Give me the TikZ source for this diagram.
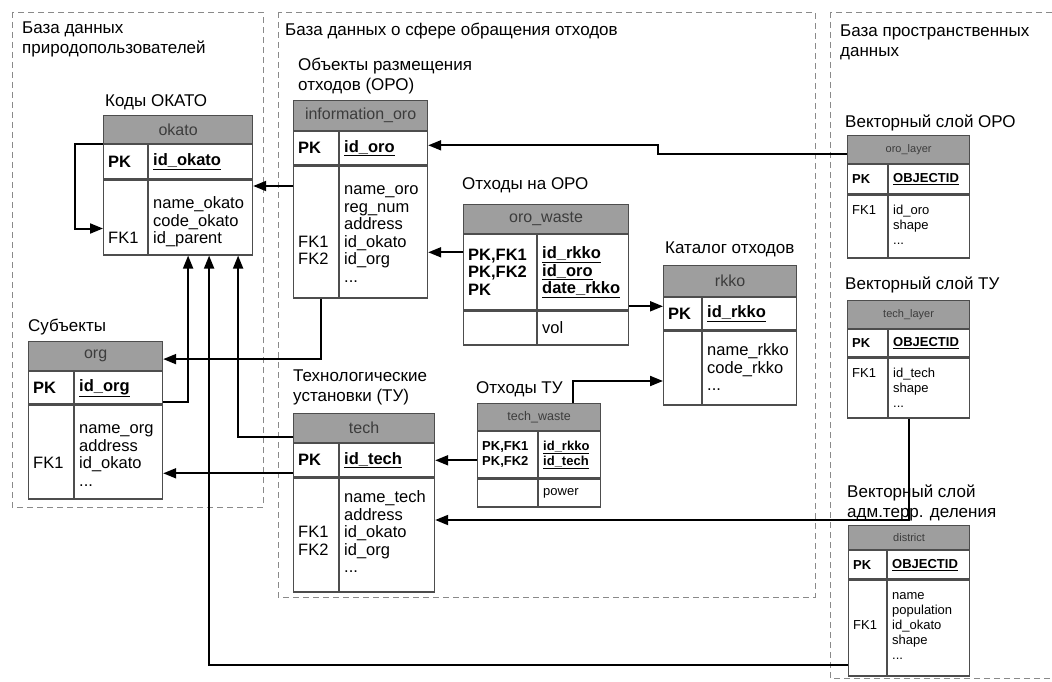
\documentclass[tikz,border=0pt]{standalone}
\usepackage{fontspec}
\setmainfont{Liberation Sans}
\usetikzlibrary{arrows.meta,positioning,calc}
\definecolor{hdrgray}{HTML}{9E9E9E}
\definecolor{tabline}{HTML}{4D4D4D}
\definecolor{hdrtext}{HTML}{3C3C3C}
\definecolor{regline}{HTML}{8A8A8A}
\newcommand\fbig{\fontsize{16.5}{17.5}\selectfont}
\newcommand\fsml{\fontsize{13}{15}\selectfont}
\newcommand\ftitle{\fontsize{17}{20}\selectfont}

% table frame: name, x, y, width, divider, header h, key h, body h, header text
\newcommand\ertable[9]{%
  \node[tabhead, minimum width=#4pt, minimum height=#6pt, anchor=north west] (#1) at (#2,#3) {#9};
  \node[tabrow, minimum width=#4pt, minimum height=#7pt, anchor=north] (#1-key) at (#1.south) {};
  \node[tabrow, minimum width=#4pt, minimum height=#8pt, anchor=north] (#1-body) at (#1-key.south) {};
  \draw[tabrule] ([xshift=#5pt]#1-key.north west) -- ([xshift=#5pt]#1-body.south west);
  \coordinate (#1-k) at ([xshift=5pt]#1-key.west);
  \coordinate (#1-f) at ([xshift=#5pt+5pt]#1-key.west);
  \coordinate (#1-kb) at ([xshift=5pt]#1-body.north west);
  \coordinate (#1-fb) at ([xshift=#5pt+5pt]#1-body.north west);
  \coordinate (#1-fm) at ([xshift=#5pt+5pt]#1-body.west);
}

\begin{document}
\begin{tikzpicture}[x=1pt, y=-1pt,
  tabhead/.style={draw=tabline, fill=hdrgray, line width=1.2pt, inner sep=0pt,
    font=\fontsize{16}{18}\selectfont, text=hdrtext},
  tabrow/.style={draw=tabline, fill=white, line width=1.2pt, inner sep=0pt},
  tabrule/.style={draw=tabline, line width=1.2pt},
  keytxt/.style={anchor=west, inner sep=0pt, align=left, font=\fbig\bfseries},
  bodytxt/.style={anchor=north west, inner sep=0pt, align=left, font=\fbig, yshift=-17pt},
  keysml/.style={keytxt, font=\fsml\bfseries},
  bodysml/.style={anchor=north west, inner sep=0pt, align=left, font=\fsml, yshift=-9pt},
  tabtitle/.style={inner sep=0pt, align=left, font=\ftitle},
  dbregion/.style={draw=regline, line width=0.8pt, dash pattern=on 6pt off 4pt},
  fk/.style={-{Triangle[length=13pt,width=10pt]}, line width=2pt},
]
\path[fill=white, use as bounding box] (0,0) rectangle (1052,682);

% databases
\draw[dbregion] (12,12) rectangle (263,507);
\draw[dbregion] (278,12) rectangle (815,597);
\draw[dbregion] (830,12) rectangle (1060,678);
\node[tabtitle, anchor=north west] (db-users) at (22,22) {База данных\\природопользователей};
\node[tabtitle, anchor=base west] (db-waste) at (285,36) {База данных о сфере обращения отходов};
\node[tabtitle, anchor=north west] (db-gis) at (840,25) {База пространственных\\данных};

% okato
\ertable{okato}{103}{115}{149}{45}{28}{34}{75}{okato}
\node[tabtitle, anchor=base west] (okato-title) at (105,107) {Коды ОКАТО};
\node[keytxt] (okato-pk) at (okato-k) {PK};
\node[keytxt] (okato-id) at (okato-f) {\underline{id\_okato}};
\node[bodytxt] (okato-fk) at (okato-kb) {\strut\\\strut\\FK1};
\node[bodytxt] (okato-cols) at (okato-fb) {\strut name\_okato\\code\_okato\\id\_parent};

% org
\ertable{org}{28}{341}{134}{46}{29}{32}{94}{org}
\node[tabtitle, anchor=base west] (org-title) at (28,331) {Субъекты};
\node[keytxt] (org-pk) at (org-k) {PK};
\node[keytxt] (org-id) at (org-f) {\underline{id\_org}};
\node[bodytxt] (org-fk) at (org-kb) {\strut\\\strut\\FK1};
\node[bodytxt] (org-cols) at (org-fb) {\strut name\_org\\address\\id\_okato\\...};

% information_oro
\ertable{infooro}{293}{100}{134}{46}{30}{33}{132}{information\_oro}
\node[tabtitle, anchor=north west] (infooro-title) at (298,58) {Объекты размещения\\отходов (ОРО)};
\node[keytxt] (infooro-pk) at (infooro-k) {PK};
\node[keytxt] (infooro-id) at (infooro-f) {\underline{id\_oro}};
\node[bodytxt] (infooro-fk) at (infooro-kb) {\strut\\\strut\\\strut\\FK1\\FK2};
\node[bodytxt] (infooro-cols) at (infooro-fb) {\strut name\_oro\\reg\_num\\address\\id\_okato\\id\_org\\...};

% oro_waste
\ertable{orowaste}{463}{204}{165}{74}{29}{75}{34}{oro\_waste}
\node[tabtitle, anchor=base west] (orowaste-title) at (462,189) {Отходы на ОРО};
\node[keytxt] (orowaste-pk) at (orowaste-k) {PK,FK1\\PK,FK2\\PK};
\node[keytxt] (orowaste-id) at (orowaste-f) {\underline{id\_rkko}\\\underline{id\_oro}\\\underline{date\_rkko}};
\node[keytxt, font=\fbig] (orowaste-cols) at (orowaste-fm) {vol};

% rkko
\ertable{rkko}{663}{265}{133}{39}{31}{32}{74}{rkko}
\node[tabtitle, anchor=base west] (rkko-title) at (665,253) {Каталог отходов};
\node[keytxt] (rkko-pk) at (rkko-k) {PK};
\node[keytxt] (rkko-id) at (rkko-f) {\underline{id\_rkko}};
\node[bodytxt, yshift=4pt] (rkko-cols) at (rkko-fb) {\strut name\_rkko\\code\_rkko\\...};

% tech
\ertable{tech}{293}{413}{141}{46}{29}{33}{114}{tech}
\node[tabtitle, anchor=north west] (tech-title) at (293,370) {Технологические\\установки (ТУ)};
\node[keytxt] (tech-pk) at (tech-k) {PK};
\node[keytxt] (tech-id) at (tech-f) {\underline{id\_tech}};
\node[bodytxt, yshift=4pt] (tech-fk) at (tech-kb) {\strut\\\strut\\FK1\\FK2};
\node[bodytxt, yshift=4pt] (tech-cols) at (tech-fb) {\strut name\_tech\\address\\id\_okato\\id\_org\\...};

% tech_waste
\ertable{techwaste}{477}{403}{123}{61}{27}{46}{28}{\fontsize{12.5}{14}\selectfont tech\_waste}
\node[tabtitle, anchor=base west] (techwaste-title) at (476,393) {Отходы ТУ};
\node[keysml] (techwaste-pk) at (techwaste-k) {PK,FK1\\PK,FK2};
\node[keysml] (techwaste-id) at (techwaste-f) {\underline{id\_rkko}\\\underline{id\_tech}};
\node[keysml, font=\fsml] (techwaste-cols) at (techwaste-fm) {power};

% oro_layer
\ertable{orolayer}{847}{135}{122}{41}{28}{29}{63}{\fontsize{11}{13}\selectfont oro\_layer}
\node[tabtitle, anchor=base west] (orolayer-title) at (845,128) {Векторный слой ОРО};
\node[keysml] (orolayer-pk) at (orolayer-k) {PK};
\node[keysml] (orolayer-id) at (orolayer-f) {\underline{OBJECTID}};
\node[bodysml] (orolayer-fk) at (orolayer-kb) {\strut FK1};
\node[bodysml] (orolayer-cols) at (orolayer-fb) {\strut id\_oro\\shape\\...};

% tech_layer
\ertable{techlayer}{847}{300}{122}{41}{28}{27}{60}{\fontsize{11}{13}\selectfont tech\_layer}
\node[tabtitle, anchor=base west] (techlayer-title) at (845,289) {Векторный слой ТУ};
\node[keysml] (techlayer-pk) at (techlayer-k) {PK};
\node[keysml] (techlayer-id) at (techlayer-f) {\underline{OBJECTID}};
\node[bodysml] (techlayer-fk) at (techlayer-kb) {\strut FK1};
\node[bodysml] (techlayer-cols) at (techlayer-fb) {\strut id\_tech\\shape\\...};

% district
\ertable{district}{848}{525}{121}{39}{24}{28}{96}{\fontsize{11}{13}\selectfont district}
\node[tabtitle, anchor=north west] (district-title) at (847,485) {Векторный слой\\адм.терр. деления};
\node[keysml] (district-pk) at (district-k) {PK};
\node[keysml] (district-id) at (district-f) {\underline{OBJECTID}};
\node[bodysml] (district-fk) at (district-kb) {\strut\\\strut\\FK1};
\node[bodysml] (district-cols) at (district-fb) {\strut name\\population\\id\_okato\\shape\\...};

% links
\path ([yshift=46pt]infooro-body.west) coordinate (c-oro-okato)
      ([yshift=20pt]orowaste-key.west) coordinate (c-waste-oro)
      ([yshift=-34pt]orowaste-key.east) coordinate (c-waste-rkko)
      ([yshift=-13pt]tech-key.west) coordinate (c-tech-org);
\draw[fk] ([yshift=-4pt]orolayer.west) -- ++(-189,0) |- ([yshift=3pt]infooro-key.east);
\draw[fk] (c-oro-okato) -- (c-oro-okato -| okato-body.east);
\draw[fk] (okato.south west) -- ++(-28,0) |- ([yshift=-11pt]okato-body.west);
\draw[fk] (c-waste-oro) -- (c-waste-oro -| infooro-body.east);
\draw[fk] (c-waste-rkko) -- (c-waste-rkko -| rkko-key.west);
\draw[fk] ([xshift=-40pt]infooro-body.south) |- ([yshift=-3pt]org.east);
\draw[fk] ([yshift=-14pt]org-key.east) -| ([xshift=10pt]okato-body.south);
\draw[fk] ([yshift=-9pt]tech.west) -| ([xshift=60pt]okato-body.south);
\draw[fk] (c-tech-org) -- (c-tech-org -| org-body.east);
\draw[fk] ([xshift=34pt]techwaste.north) |- ([yshift=-13pt]rkko-body.west);
\draw[fk] (techwaste-key.west |- tech-key.east) -- (tech-key.east);
\draw[fk] (techlayer-body.south) |- ([yshift=15pt]tech-body.east);
\draw[fk] ([yshift=-37pt]district-body.west) -| ([xshift=31pt]okato-body.south);
\end{tikzpicture}
\end{document}
